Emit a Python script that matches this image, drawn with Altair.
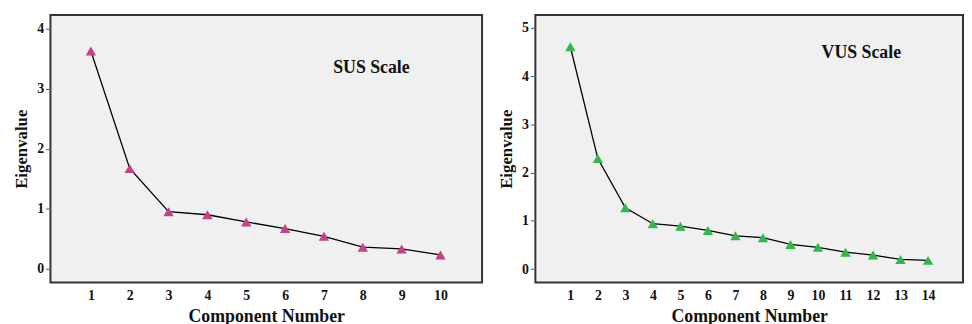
import altair as alt
import pandas as pd

sus_components = [1, 2, 3, 4, 5, 6, 7, 8, 9, 10]
sus_eigen = [3.63, 1.67, 0.95, 0.90, 0.78, 0.67, 0.54, 0.36, 0.33, 0.23]

vus_components = [1, 2, 3, 4, 5, 6, 7, 8, 9, 10, 11, 12, 13, 14]
vus_eigen = [4.61, 2.29, 1.27, 0.94, 0.89, 0.80, 0.69, 0.65, 0.51, 0.45, 0.35, 0.29, 0.20, 0.18]

sus_df = pd.DataFrame({"Component": sus_components, "Eigenvalue": sus_eigen})
vus_df = pd.DataFrame({"Component": vus_components, "Eigenvalue": vus_eigen})

FONT = "'Liberation Serif', 'Times New Roman', 'DejaVu Serif', serif"


def panel(df, color, xdom, ydom, yticks, label, lx, ly, w, h):
    x = alt.X("Component:Q",
              scale=alt.Scale(domain=xdom, nice=False, zero=False),
              axis=alt.Axis(values=list(df["Component"]), title="Component Number",
                            ticks=False, labelPadding=6, grid=False, domain=False,
                            labelFlush=False, titlePadding=5))
    y = alt.Y("Eigenvalue:Q",
              scale=alt.Scale(domain=ydom, nice=False, zero=False),
              axis=alt.Axis(values=yticks, title="Eigenvalue", grid=False,
                            domain=False, tickSize=5, labelPadding=2,
                            titlePadding=6, labelFlush=False))
    base = alt.Chart(df)
    line = base.mark_line(color="black", strokeWidth=1.3).encode(x=x, y=y)
    pts = base.mark_point(shape="triangle-up", filled=True, size=110,
                          color=color, opacity=1).encode(x=x, y=y)
    txt = alt.Chart(pd.DataFrame({"t": [label]})).mark_text(
        font=FONT, fontWeight="bold", fontSize=18, color="#111"
    ).encode(text="t:N", x=alt.value(lx), y=alt.value(ly))
    return (line + pts + txt).properties(width=w, height=h)


left = panel(sus_df, "#c4408a", [-0.04, 11.07], [-0.23, 4.23], [0, 1, 2, 3, 4],
             "SUS Scale", 325, 54, 437, 271)
right = panel(vus_df, "#2fb84c", [-0.27, 15.27], [-0.28, 5.27], [0, 1, 2, 3, 4, 5],
              "VUS Scale", 330, 39, 433, 271)

chart = alt.hconcat(left, right, spacing=54, bounds="flush").properties(
    padding={"left": 4, "top": 4, "right": 0, "bottom": 0}
).configure_view(
    fill="#f0f0f0", stroke="#333333", strokeWidth=2
).configure_axis(
    labelFont=FONT, titleFont=FONT, labelFontWeight="bold", titleFontWeight="bold",
    labelFontSize=14, titleFontSize=18, labelColor="#111", titleColor="#111",
    tickColor="#555"
).configure_axisY(titleFontSize=17)

chart.save("out.html", embed_options={"renderer": "svg", "actions": False})
